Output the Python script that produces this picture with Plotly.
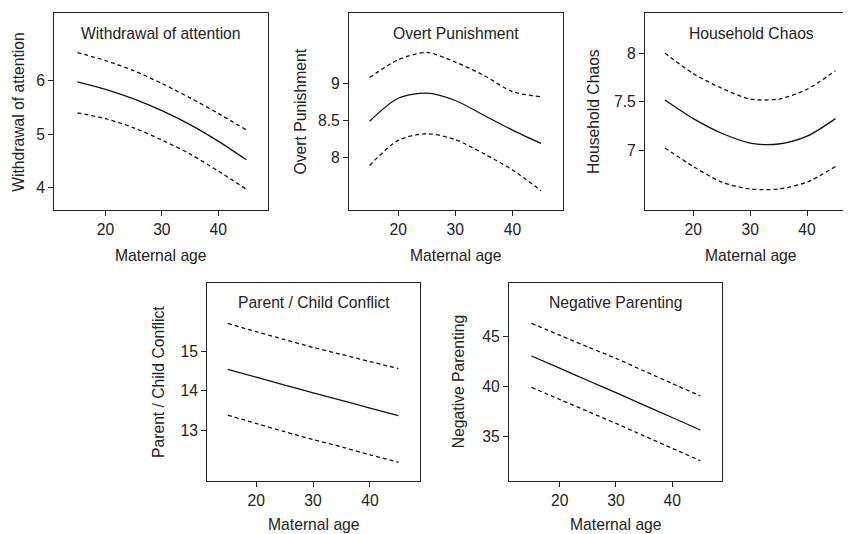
import plotly.graph_objects as go

# ---- data ----
ages = [15, 20, 25, 30, 35, 40, 45]

withdrawal_fit = [5.98, 5.84, 5.66, 5.44, 5.18, 4.87, 4.52]
withdrawal_hi = [6.53, 6.38, 6.19, 5.95, 5.68, 5.39, 5.08]
withdrawal_lo = [5.40, 5.29, 5.12, 4.89, 4.63, 4.31, 3.97]

overt_fit = [8.49, 8.80, 8.87, 8.77, 8.57, 8.37, 8.19]
overt_hi = [9.08, 9.32, 9.42, 9.29, 9.11, 8.89, 8.82]
overt_lo = [7.89, 8.23, 8.32, 8.24, 8.05, 7.83, 7.55]

chaos_fit = [7.52, 7.33, 7.18, 7.08, 7.07, 7.15, 7.33]
chaos_hi = [8.00, 7.79, 7.64, 7.53, 7.53, 7.63, 7.82]
chaos_lo = [7.03, 6.84, 6.68, 6.61, 6.61, 6.68, 6.84]

conflict_fit = [14.55, 14.35, 14.15, 13.95, 13.76, 13.56, 13.37]
conflict_hi = [15.72, 15.51, 15.31, 15.11, 14.93, 14.75, 14.57]
conflict_lo = [13.38, 13.17, 12.96, 12.76, 12.57, 12.37, 12.18]

negpar_fit = [43.07, 41.85, 40.62, 39.40, 38.15, 36.92, 35.67]
negpar_hi = [46.33, 45.15, 43.98, 42.83, 41.57, 40.32, 39.07]
negpar_lo = [39.93, 38.73, 37.53, 36.33, 35.08, 33.84, 32.60]

titles = ["Withdrawal of attention", "Overt Punishment", "Household Chaos",
          "Parent / Child Conflict", "Negative Parenting"]
x_label = "Maternal age"
x_ticks = [20, 30, 40]
y_ticks = [[4, 5, 6], [8, 8.5, 9], [7, 7.5, 8], [13, 14, 15], [35, 40, 45]]
y_tick_text = [["4", "5", "6"], ["8", "8.5", "9"], ["7", "7.5", "8"],
               ["13", "14", "15"], ["35", "40", "45"]]

series = [
    (withdrawal_fit, withdrawal_hi, withdrawal_lo),
    (overt_fit, overt_hi, overt_lo),
    (chaos_fit, chaos_hi, chaos_lo),
    (conflict_fit, conflict_hi, conflict_lo),
    (negpar_fit, negpar_hi, negpar_lo),
]

# ---- layout geometry (page pixels; the page body adds an 8px offset) ----
OFF = 8
W, H = 851 - OFF, 534 - OFF
px_x = [(54.3, 268.3), (349, 563.3), (645, 851), (207.3, 420), (509, 722.3)]
px_y = [(13, 210), (13, 210), (13, 210), (282.7, 480.7), (282.7, 480.7)]
x_ranges = [[10.9, 48.9], [11.4, 48.9], [11.5, 47.73], [11.4, 48.8], [11.0, 48.9]]
y_ranges = [[3.58, 7.27], [7.288, 9.954], [6.395, 8.41], [11.71, 16.76], [30.6, 50.4]]
ytitle_shift = [-36, -49, -51.5, -49, -50.5]

FONT = "Liberation Sans, Arial, Helvetica, sans-serif"
FS = 15.7
INK = "#222222"

fig = go.Figure()
annotations = []
for i in range(5):
    n = "" if i == 0 else str(i + 1)
    xa, ya = "x" + n, "y" + n
    fit, hi, lo = series[i]
    for vals, dash in ((hi, "4px,3px"), (fit, "solid"), (lo, "4px,3px")):
        fig.add_trace(go.Scatter(
            x=ages, y=vals, xaxis=xa, yaxis=ya, mode="lines",
            line=dict(color="#111111", width=1.3, dash=dash, shape="spline", smoothing=0.8),
            showlegend=False, hoverinfo="skip"))
    x0, x1 = [v - OFF for v in px_x[i]]
    y0, y1 = [v - OFF for v in px_y[i]]
    common = dict(showline=True, linecolor=INK, linewidth=1.2, ticks="outside",
                  ticklen=5, tickwidth=1.2, tickcolor=INK, showgrid=False,
                  zeroline=False, tickfont=dict(family=FONT, size=FS, color=INK))
    fig.layout["xaxis" + n] = dict(
        domain=[x0 / W, min(x1 / W, 1)], range=x_ranges[i], anchor=ya,
        tickvals=x_ticks, mirror=True, **common)
    fig.layout["yaxis" + n] = dict(
        domain=[1 - y1 / H, 1 - y0 / H], range=y_ranges[i], anchor=xa,
        tickvals=y_ticks[i], ticktext=y_tick_text[i],
        mirror=(i != 2), **common)
    xmid = (x_ranges[i][0] + x_ranges[i][1]) / 2 if i != 2 else 30.2
    f = dict(family=FONT, size=FS, color=INK)
    annotations.append(dict(text=titles[i], x=xmid, xref=xa, y=1, yref=ya + " domain",
                            yanchor="middle", xanchor="center", yshift=-20,
                            showarrow=False, font=f))
    annotations.append(dict(text=x_label, x=xmid, xref=xa, y=0, yref=ya + " domain",
                            yanchor="middle", xanchor="center",
                            yshift=-45 if i < 3 else -44,
                            showarrow=False, font=f))
    annotations.append(dict(text=titles[i], x=0, xref=xa + " domain", y=0.5,
                            yref=ya + " domain", xanchor="center", yanchor="middle",
                            xshift=ytitle_shift[i], textangle=-90, showarrow=False, font=f))

fig.update_layout(width=W, height=H, margin=dict(l=0, r=0, t=0, b=0),
                  paper_bgcolor="white", plot_bgcolor="white",
                  annotations=annotations)
fig.write_html("out.html")
